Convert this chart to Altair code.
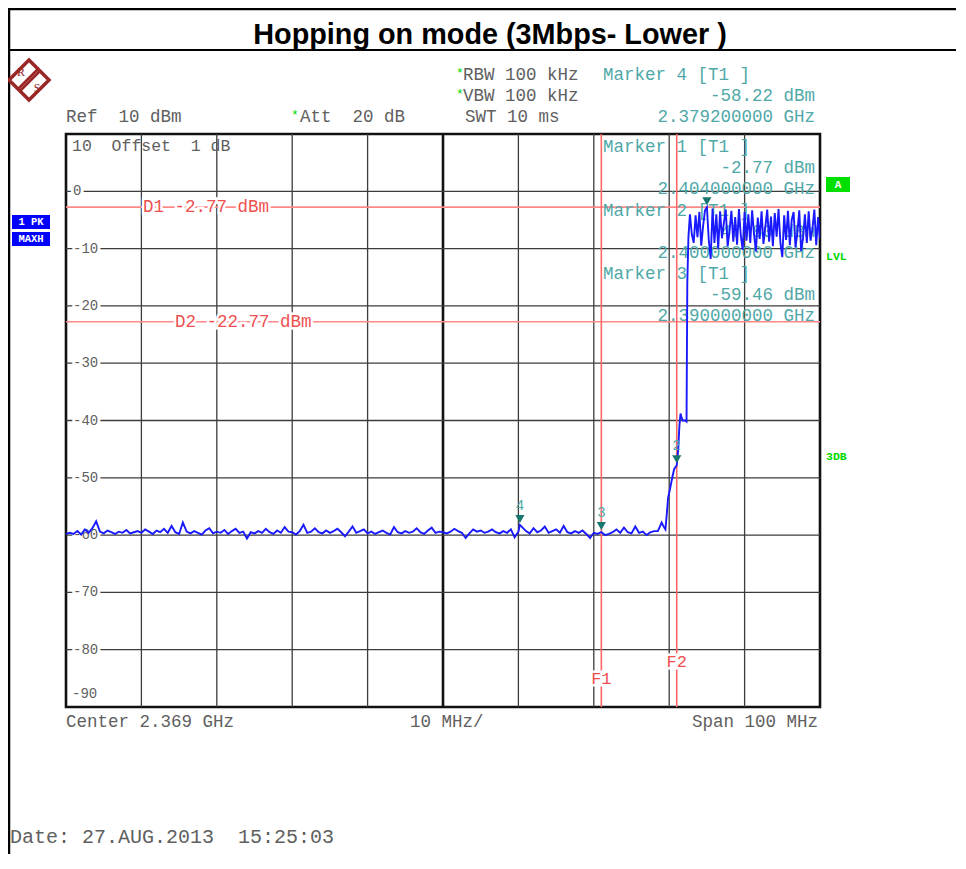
import altair as alt
import pandas as pd

MONO = "Liberation Mono"
SANS = "Liberation Sans"
GRAY = "#606060"
TEAL = "#4fa8a8"
TEAL_DARK = "#17766e"
RED_LINE = "#ff8888"
RED_TXT = "#ee5050"
BLUE = "#1a1aff"
GREEN = "#00d800"
SP = "\u00a0"

# ---------------- data ----------------
x_domain = [2319.0, 2419.0]          # MHz : center 2369, span 100
y_domain = [-90, 10]                 # dBm
grid_freqs = [2329, 2339, 2349, 2359, 2379, 2389, 2399, 2409]
center_freqs = [2369]
grid_levels = [0, -10, -20, -30, -40, -50, -60, -70, -80]
level_labels = ["0", "-10", "-20", "-30", "-40", "-50", "-60", "-70", "-80"]

# noise floor, sweep points every 0.5 MHz from 2319.0 MHz
noise_start, noise_step = 2319.0, 0.5
noise_db = [
    -59.8, -59.6, -59.8, -59.3, -59.9, -59.0, -59.6, -58.8, -57.6, -59.4,
    -59.7, -59.2, -59.5, -59.8, -59.4, -59.6, -59.1, -59.7, -59.5, -59.3,
    -59.6, -59.0, -59.4, -59.8, -59.2, -59.5, -58.9, -59.6, -58.4, -59.5,
    -59.8, -57.8, -59.4, -59.7, -59.3, -59.6, -59.9, -59.2, -58.8, -59.7,
    -59.4, -59.6, -59.1, -59.8, -59.3, -58.9, -59.6, -59.4, -60.6, -59.5,
    -59.7, -59.3, -59.6, -58.9, -59.5, -59.8, -59.2, -59.6, -58.6, -59.4,
    -59.5, -59.9, -59.3, -58.2, -59.6, -59.4, -58.8, -59.5, -59.7, -59.2,
    -59.6, -59.3, -58.9, -59.5, -60.2, -59.4, -58.5, -59.6, -59.3, -59.0,
    -59.7, -59.4, -59.8, -59.5, -59.2, -59.6, -59.9, -58.6, -59.5, -59.7,
    -59.3, -59.6, -59.4, -58.8, -59.5, -59.8, -59.2, -58.7, -59.6, -59.4,
    -59.5, -59.7, -59.4, -58.9, -59.3, -59.6, -60.5, -59.7, -59.0, -59.4,
    -59.2, -59.6, -59.4, -59.0, -59.5, -59.7, -59.3, -59.6, -59.0, -60.4,
    -59.4, -58.6, -59.3, -59.7, -58.8, -59.5, -59.2, -58.5, -59.6, -59.3,
    -59.0, -59.6, -58.4, -59.5, -59.7, -59.3, -59.6, -59.2, -59.8, -60.5,
    -59.6, -59.8, -59.46, -60.0, -59.8, -59.5, -59.0, -59.6, -58.7, -59.5,
    -59.7, -58.5, -59.6, -59.4, -60.0, -59.5, -59.3, -59.3, -57.8,
]

# band edge
edge_freqs = [2398.3, 2398.5, 2398.7, 2398.85, 2399.1, 2399.4, 2399.65, 2400.0,
              2400.2, 2400.35, 2400.5, 2400.65, 2400.8, 2401.1, 2401.3, 2401.4, 2401.55]
edge_db = [-58.6, -59.0, -56.0, -53.5, -52.0, -50.0, -48.5, -47.8,
           -45.0, -41.0, -38.8, -39.5, -40.0, -40.0, -40.2, -16.0, -8.0]

# in-band hopping (max hold), sweep points every 0.25 MHz from 2401.75 MHz
band_start, band_step = 2401.75, 0.25
band_db = [
    -4.0, -7.5, -9.0, -4.2, -8.0, -3.6, -9.5, -6.0,
    -3.3, -2.77, -8.5, -11.8, -3.0, -9.0, -4.0, -10.0,
    -3.5, -8.2, -5.5, -3.2, -9.6, -7.0, -3.4, -8.8,
    -4.5, -9.3, -3.1, -7.8, -10.2, -3.6, -8.6, -4.0,
    -9.0, -3.3, -7.5, -10.5, -4.6, -8.3, -3.5, -9.2,
    -6.2, -3.2, -8.8, -4.4, -9.6, -3.8, -7.9, -3.1,
    -9.0, -11.5, -4.2, -8.5, -3.4, -9.4, -5.0, -3.6,
    -9.8, -7.2, -3.3, -10.4, -8.2, -4.0, -9.0, -3.5,
    -8.6, -6.5, -3.2, -9.4, -4.5, -8.3,
]

marker_ids = ["1", "2", "3", "4"]
marker_freqs = [2404.0, 2400.0, 2390.0, 2379.2]
marker_levels = [-2.77, -47.80, -59.46, -58.22]
marker_tags = ["", "2", "3", "4"]

d_names = ["D1", "D2"]
d_levels = [-2.77, -22.77]
f_names = ["F1", "F2"]
f_freqs = [2390.0, 2400.0]

# ---------------- tables ----------------
trace = pd.concat([
    pd.DataFrame({"f": [noise_start + i * noise_step for i in range(len(noise_db))], "db": noise_db}),
    pd.DataFrame({"f": edge_freqs, "db": edge_db}),
    pd.DataFrame({"f": [band_start + i * band_step for i in range(len(band_db))], "db": band_db}),
    pd.DataFrame({"f": [marker_freqs[3]], "db": [marker_levels[3]]}),
]).sort_values("f").reset_index(drop=True)
trace["i"] = range(len(trace))

markers = pd.DataFrame({"id": marker_ids, "f": marker_freqs, "db": marker_levels, "tag": marker_tags})
grid_v = pd.DataFrame({"f": grid_freqs})
grid_c = pd.DataFrame({"f": center_freqs})
grid_h = pd.DataFrame({"db": grid_levels, "label": level_labels})
dlines = pd.DataFrame({"name": d_names, "db": d_levels})
dlines["label"] = [f"{n} {v:.2f} dBm" for n, v in zip(d_names, d_levels)]
flines = pd.DataFrame({"name": f_names, "f": f_freqs})
ONE = pd.DataFrame({"k": [0]})

xs = alt.Scale(domain=x_domain, nice=False, zero=False)
ys = alt.Scale(domain=y_domain, nice=False, zero=False)


def X(field):
    return alt.X(field, type="quantitative", scale=xs, axis=None)


def Y(field):
    return alt.Y(field, type="quantitative", scale=ys, axis=None)


def txt(text, x, y, color=GRAY, size=17.5, align="left", weight="normal", font=MONO):
    return alt.Chart(ONE).mark_text(
        text=text.replace("  ", SP + SP), align=align, baseline="middle", fontSize=size, font=font,
        color=color, fontWeight=weight,
    ).encode(x=alt.value(x), y=alt.value(y))


def box(x1, x2, y1, y2, color):
    return alt.Chart(ONE).mark_rect(color=color).encode(
        x=alt.value(x1), x2=alt.value(x2), y=alt.value(y1), y2=alt.value(y2))


def hrule(y, x1, x2, color="#000000", w=2):
    return alt.Chart(ONE).mark_rule(color=color, strokeWidth=w).encode(
        x=alt.value(x1), x2=alt.value(x2), y=alt.value(y))


def vrule(x, y1, y2, color="#000000", w=2):
    return alt.Chart(ONE).mark_rule(color=color, strokeWidth=w).encode(
        x=alt.value(x), y=alt.value(y1), y2=alt.value(y2))


layers = []

# frame of the page and title
layers += [
    vrule(-57, -126, 720, w=2.5),
    hrule(-125, -58, 892, w=2.5),
    hrule(-84, -58, 892, w=2),
    txt("Hopping on mode (3Mbps- Lower )", 424, -99, color="#000000", size=28.8,
        align="center", weight="bold", font=SANS),
]

# R&S logo
LOGO = "#9a2626"
layers += [
    alt.Chart(ONE).mark_point(shape="M0,-1L1,0L0,1L-1,0Z", size=1600, filled=False, opacity=1,
                              stroke=LOGO, strokeWidth=3.5).encode(x=alt.value(-37), y=alt.value(-54)),
    alt.Chart(ONE).mark_point(shape="M-0.55,0.45L0.45,-0.55M-0.45,0.55L0.55,-0.45", size=1600,
                              filled=False, opacity=1,
                              stroke=LOGO, strokeWidth=2.5).encode(x=alt.value(-37), y=alt.value(-54)),
    txt("R", -45, -62, color=LOGO, size=12, align="center", font="Liberation Serif"),
    txt("S", -29, -46, color=LOGO, size=12, align="center", font="Liberation Serif"),
]

# header settings
layers += [
    txt("*", 390, -61, color=GREEN, size=13),
    txt("RBW 100 kHz", 397, -59),
    txt("*", 390, -40, color=GREEN, size=13),
    txt("VBW 100 kHz", 397, -38),
    txt("Ref  10 dBm", 0, -17),
    txt("*", 225, -19, color=GREEN, size=13),
    txt("Att  20 dB", 234, -17),
    txt("SWT 10 ms", 399, -17),
    txt(f"Marker {marker_ids[3]} [T1 ]", 537, -59, color=TEAL),
    txt(f"{marker_levels[3]:.2f} dBm", 749, -38, color=TEAL, align="right"),
    txt(f"{marker_freqs[3] / 1000:.9f} GHz", 749, -17, color=TEAL, align="right"),
]

# side badges
layers += [
    box(-54, -16, 81, 95, "#0000ff"),
    txt("1 PK", -35, 88, color="#ffffff", size=10.5, align="center", weight="bold"),
    box(-54, -16, 98, 112, "#0000ff"),
    txt("MAXH", -35, 105, color="#ffffff", size=10.5, align="center", weight="bold"),
    box(760, 784, 43, 58, "#00e000"),
    txt("A", 772, 50.5, color="#ffffff", size=11, align="center", weight="bold"),
    txt("LVL", 760, 123, color=GREEN, size=11.5, weight="bold"),
    txt("3DB", 760, 323, color=GREEN, size=11.5, weight="bold"),
]

# grid
layers += [
    alt.Chart(grid_v).mark_rule(color="#3c3c3c", strokeWidth=1.3).encode(x=X("f")),
    alt.Chart(grid_c).mark_rule(color="#111111", strokeWidth=2.6).encode(x=X("f")),
    alt.Chart(grid_h).mark_rule(color="#3c3c3c", strokeWidth=1.3).encode(y=Y("db")),
    alt.Chart(grid_h).mark_text(align="left", baseline="middle", fontSize=14, font=MONO,
                                color="#ffffff", stroke="#ffffff", strokeWidth=6).encode(
        x=alt.value(7), y=Y("db"), text="label:N"),
    alt.Chart(grid_h).mark_text(align="left", baseline="middle", fontSize=14, font=MONO,
                                color=GRAY).encode(x=alt.value(7), y=Y("db"), text="label:N"),
    txt("-90", 6, 560, size=14),
    txt("10  Offset  1 dB", 6, 12, size=16.5),
]

# display lines and frequency lines
layers += [
    alt.Chart(dlines).mark_rule(color=RED_LINE, strokeWidth=1.6).encode(y=Y("db")),
    alt.Chart(flines).mark_rule(color="#ff6666", strokeWidth=1.6).encode(x=X("f")),
]
for idx, xpos in zip([0, 1], [77, 109]):
    sub = dlines.iloc[[idx]]
    layers += [
        alt.Chart(sub).mark_text(align="left", baseline="middle", fontSize=17.5, font=MONO,
                                 color="#ffffff", stroke="#ffffff", strokeWidth=5).encode(
            x=alt.value(xpos), y=Y("db"), text="label:N"),
        alt.Chart(sub).mark_text(align="left", baseline="middle", fontSize=17.5, font=MONO,
                                 color=RED_TXT).encode(x=alt.value(xpos), y=Y("db"), text="label:N"),
    ]
for idx, ypos in zip([0, 1], [545, 528]):
    sub = flines.iloc[[idx]]
    layers += [
        alt.Chart(sub).mark_text(align="center", baseline="middle", fontSize=17, font=MONO,
                                 color="#ffffff", stroke="#ffffff", strokeWidth=5).encode(
            x=X("f"), y=alt.value(ypos), text="name:N"),
        alt.Chart(sub).mark_text(align="center", baseline="middle", fontSize=17, font=MONO,
                                 color=RED_TXT).encode(x=X("f"), y=alt.value(ypos), text="name:N"),
    ]

# marker readouts inside the grid (markers 1..3)
for k, y0 in zip([0, 1, 2], [13, 77, 140]):
    layers += [
        txt(f"Marker {marker_ids[k]} [T1 ]", 537, y0, color=TEAL),
        txt(f"{marker_levels[k]:.2f} dBm", 749, y0 + 21, color=TEAL, align="right"),
        txt(f"{marker_freqs[k] / 1000:.9f} GHz", 749, y0 + 42, color=TEAL, align="right"),
    ]

# trace
layers += [
    alt.Chart(trace).mark_line(color=BLUE, strokeWidth=1.9, clip=True).encode(
        x=X("f"), y=Y("db"), order="i:Q"),
]

# marker symbols
layers += [
    alt.Chart(markers).mark_point(shape="triangle-down", filled=True, size=85, opacity=1,
                                  color=TEAL_DARK, yOffset=-6).encode(x=X("f"), y=Y("db")),
    alt.Chart(markers).mark_text(fontSize=14, font=MONO, color=TEAL, dy=-19,
                                 baseline="middle", align="center").encode(
        x=X("f"), y=Y("db"), text="tag:N"),
]

# footer
layers += [
    txt("Center 2.369 GHz", 0, 588),
    txt("10 MHz/", 344, 588),
    txt("Span 100 MHz", 752, 588, align="right"),
    txt("Date: 27.AUG.2013  15:25:03", -56, 703, size=20),
]

chart = alt.layer(*layers).properties(
    width=754,
    height=573,
    autosize=alt.AutoSizeParams(type="none"),
    padding={"left": 58, "top": 126, "right": 136, "bottom": 151},
    background="#ffffff",
).configure_view(stroke="#111111", strokeWidth=2.6)

chart.save("out.html", embed_options={"renderer": "svg", "actions": False})
